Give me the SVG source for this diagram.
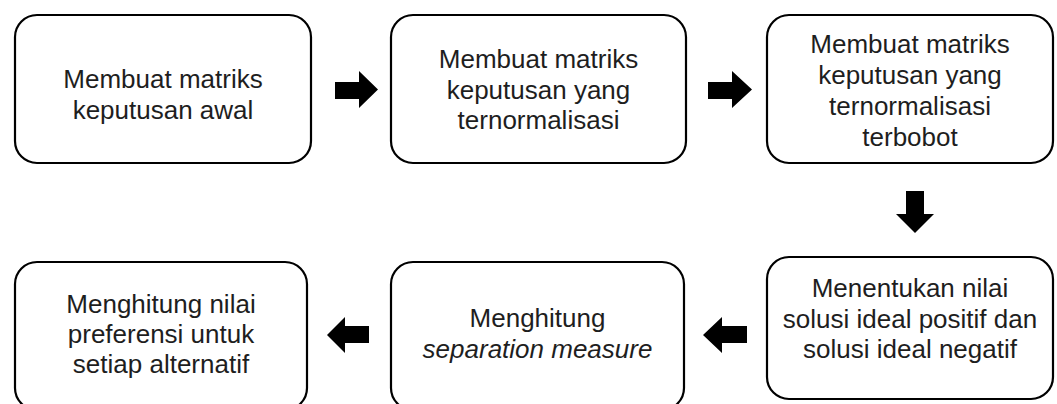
<svg xmlns="http://www.w3.org/2000/svg" width="1057" height="404" viewBox="0 0 1057 404">
<style>
.box{fill:#fff;stroke:#000;stroke-width:2.2}
.t{font-family:"Liberation Sans",Arial,sans-serif;font-size:26px;fill:#1e1e1e;text-anchor:middle}
.i{font-style:italic}
.arr{fill:#000}
</style>
<rect width="1057" height="404" fill="#fff"/>
<g id="node1">
<rect class="box" x="15" y="15" width="296" height="148" rx="22"/>
<text class="t" x="163" y="88">Membuat matriks</text>
<text class="t" x="163" y="118.5">keputusan awal</text>
</g>
<g id="node2">
<rect class="box" x="391" y="15" width="295" height="148" rx="22"/>
<text class="t" x="538.5" y="68">Membuat matriks</text>
<text class="t" x="538.5" y="98.5">keputusan yang</text>
<text class="t" x="538.5" y="129">ternormalisasi</text>
</g>
<g id="node3">
<rect class="box" x="767" y="15" width="286" height="148" rx="22"/>
<text class="t" x="910" y="53">Membuat matriks</text>
<text class="t" x="910" y="84">keputusan yang</text>
<text class="t" x="910" y="115">ternormalisasi</text>
<text class="t" x="910" y="146">terbobot</text>
</g>
<g id="node4">
<rect class="box" x="15" y="262" width="292" height="148" rx="22"/>
<text class="t" x="161" y="313">Menghitung nilai</text>
<text class="t" x="161" y="343">preferensi untuk</text>
<text class="t" x="161" y="373">setiap alternatif</text>
</g>
<g id="node5">
<rect class="box" x="391" y="262" width="293" height="148" rx="22"/>
<text class="t" x="537.5" y="327">Menghitung</text>
<text class="t i" x="537.5" y="358">separation measure</text>
</g>
<g id="node6">
<rect class="box" x="767" y="257" width="286" height="142" rx="22"/>
<text class="t" x="910" y="297">Menentukan nilai</text>
<text class="t" x="910" y="328">solusi ideal positif dan</text>
<text class="t" x="910" y="358">solusi ideal negatif</text>
</g>
<g id="connectors">
<polygon class="arr" points="335,82 359,82 359,71 378,89.5 359,108 359,99 335,99"/>
<polygon class="arr" points="708,82 732,82 732,71 752,89.5 732,108 732,99 708,99"/>
<polygon class="arr" points="906,191 924,191 924,214 934,214 915,233 896,214 906,214"/>
<polygon class="arr" points="747,326 722,326 722,317 703,335 722,353 722,343 747,343"/>
<polygon class="arr" points="369,326 345,326 345,317 327,335 345,353 345,343 369,343"/>
</g>
</svg>
